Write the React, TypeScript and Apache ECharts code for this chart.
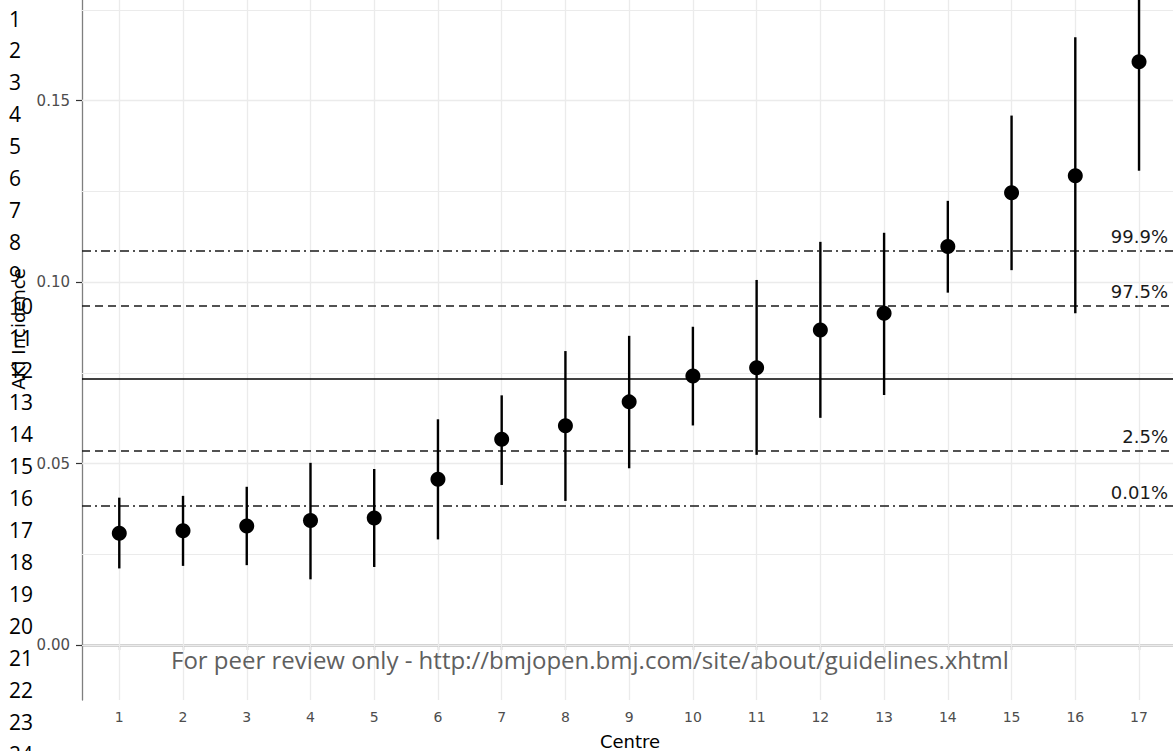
import React, { useEffect, useRef } from "react";
import * as echarts from "echarts";

const centres = [1, 2, 3, 4, 5, 6, 7, 8, 9, 10, 11, 12, 13, 14, 15, 16, 17];
const estimates = [0.0308, 0.0315, 0.0328, 0.0343, 0.035, 0.0457, 0.0567, 0.0604, 0.067, 0.0741, 0.0764, 0.0868, 0.0914, 0.1098, 0.1246, 0.1293, 0.1607];
const lowerCI = [0.0211, 0.0218, 0.022, 0.0181, 0.0215, 0.0291, 0.0441, 0.0397, 0.0487, 0.0605, 0.0524, 0.0626, 0.0689, 0.0971, 0.1033, 0.0914, 0.1307];
const upperCI = [0.0406, 0.0411, 0.0436, 0.0502, 0.0485, 0.0622, 0.0688, 0.081, 0.0852, 0.0877, 0.1006, 0.1111, 0.1136, 0.1224, 0.1459, 0.1675, 0.19];
const overallMean = 0.0735;
const limitLabels = ["99.9%", "97.5%", "2.5%", "0.01%"];
const limitValues = [0.1087, 0.0935, 0.0535, 0.0383];
const yTickValues = [0, 0.05, 0.1, 0.15];
const yTickLabels = ["0.00", "0.05", "0.10", "0.15"];
const yMinorValues = [0.025, 0.075, 0.125, 0.175];
const lineNumbers = ["1", "2", "3", "4", "5", "6", "7", "8", "9", "10", "11", "12", "13", "14", "15", "16", "17", "18", "19", "20", "21", "22", "23", "24"];
const xTitle = "Centre";
const yTitle = "AKI Incidence";
const watermark = "For peer review only - http://bmjopen.bmj.com/site/about/guidelines.xhtml";

const DASH = [8, 5];
const DASHDOT = [9, 4, 2, 4];

export default function App() {
  const ref = useRef<HTMLDivElement>(null);
  useEffect(() => {
    if (!ref.current) return;
    const chart = echarts.init(ref.current, undefined, { renderer: "svg" });
    const gridColor = "#ebebeb";
    const limitStyles = [DASHDOT, DASH, DASH, DASHDOT];

    const gridLines: any[] = [];
    yTickValues.forEach((v) => gridLines.push({ yAxis: v, lineStyle: { color: gridColor, width: 1.3, type: "solid" } }));
    yMinorValues.forEach((v) => gridLines.push({ yAxis: v, lineStyle: { color: gridColor, width: 1, type: "solid" } }));
    centres.forEach((c) => gridLines.push({ xAxis: c, lineStyle: { color: gridColor, width: 1.3, type: "solid" } }));

    const refLines: any[] = limitValues.map((v, i) => ({
      yAxis: v,
      name: limitLabels[i],
      lineStyle: { color: "#1a1a1a", width: 1.6, type: limitStyles[i] },
      label: { show: true, formatter: limitLabels[i] },
    }));
    refLines.push({ yAxis: overallMean, lineStyle: { color: "#000", width: 1.7, type: "solid" }, label: { show: false } });

    const lineNumberGraphics = lineNumbers.map((t, i) => ({
      type: "text",
      x: 9,
      y: 18.5 + i * 31.97,
      style: { text: t, fontSize: 21, fontFamily: "Open Sans", fill: "#000", verticalAlign: "middle", align: "left" },
      silent: true,
      z: 100,
    }));

    chart.setOption({
      animation: false,
      backgroundColor: "#fff",
      grid: { left: 82, right: 0, top: 0, bottom: 51, containLabel: false },
      xAxis: {
        type: "value",
        min: 0.415,
        max: 17.533,
        z: 0,
        axisLine: { show: true, lineStyle: { color: "#333", width: 1.3 } },
        axisTick: { show: true, length: 5, lineStyle: { color: "#333", width: 1.2 }, customValues: centres },
        axisLabel: {
          show: true,
          customValues: centres,
          fontSize: 14,
          color: "#4d4d4d",
          fontFamily: "DejaVu Sans",
          margin: 10,
        },
        splitLine: { show: false },
      },
      yAxis: {
        type: "value",
        min: -0.01516,
        max: 0.17775,
        z: 0,
        axisLine: { show: true, lineStyle: { color: "#7f7f7f", width: 1.3 } },
        axisTick: { show: true, length: 6, lineStyle: { color: "#333", width: 1.2 }, customValues: yTickValues },
        axisLabel: {
          show: true,
          customValues: yTickValues,
          formatter: (v: number) => {
            const idx = yTickValues.findIndex((t) => Math.abs(t - v) < 1e-9);
            return idx >= 0 ? yTickLabels[idx] : "";
          },
          fontSize: 15,
          color: "#4d4d4d",
          fontFamily: "DejaVu Sans",
          margin: 12,
        },
        splitLine: { show: false },
      },
      series: [
        {
          type: "line",
          data: [],
          silent: true,
          z: 1,
          markLine: {
            z: 1,
            silent: true,
            precision: 6,
            symbol: ["none", "none"],
            label: { show: false },
            animation: false,
            data: gridLines,
          },
        },
        {
          type: "line",
          data: [],
          silent: true,
          z: 2,
          markLine: {
            z: 2,
            silent: true,
            precision: 6,
            symbol: ["none", "none"],
            animation: false,
            label: {
              show: true,
              position: "insideEndTop",
              distance: [5, 5],
              fontSize: 18,
              fontFamily: "DejaVu Sans",
              color: "#1a1a1a",
            },
            data: refLines,
          },
        },
        {
          type: "custom",
          z: 3,
          clip: true,
          data: centres.map((c, i) => [c, lowerCI[i], upperCI[i]]),
          renderItem: (params: any, api: any) => {
            const x = api.value(0);
            const p1 = api.coord([x, api.value(1)]);
            const p2 = api.coord([x, api.value(2)]);
            return {
              type: "line",
              shape: { x1: p1[0], y1: p1[1], x2: p2[0], y2: p2[1] },
              style: { stroke: "#000", lineWidth: 2.4 },
            };
          },
        },
        {
          type: "scatter",
          z: 4,
          symbol: "circle",
          symbolSize: 15,
          itemStyle: { color: "#000", opacity: 1 },
          data: centres.map((c, i) => [c, estimates[i]]),
        },
      ],
      graphic: [
        ...lineNumberGraphics,
        {
          type: "text",
          x: 171,
          y: 659,
          style: { text: watermark, fontSize: 24, fontFamily: "Open Sans", fill: "#5f5f5f", verticalAlign: "middle" },
          silent: true,
          z: 100,
        },
        {
          type: "text",
          x: 630,
          y: 741,
          style: { text: xTitle, fontSize: 18, fontFamily: "DejaVu Sans", fill: "#000", align: "center", verticalAlign: "middle" },
          silent: true,
        },
        {
          type: "text",
          x: 18,
          y: 329,
          rotation: Math.PI / 2,
          style: { text: yTitle, fontSize: 18, fontFamily: "DejaVu Sans", fill: "#000", align: "center", verticalAlign: "middle" },
          silent: true,
        },
      ],
    });
    return () => chart.dispose();
  }, []);
  return <div ref={ref} style={{ position: "fixed", left: 0, top: 0, width: 1173, height: 751 }} />;
}
